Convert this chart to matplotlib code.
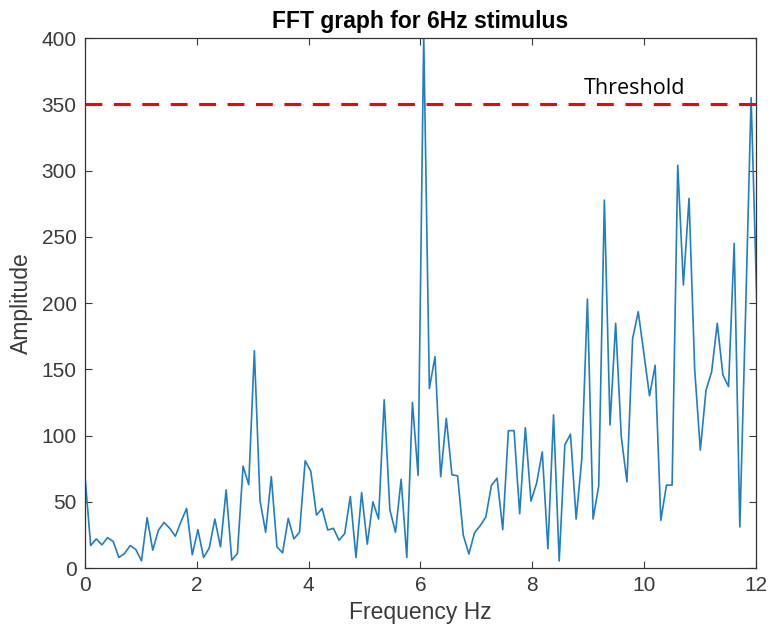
import numpy as np
import matplotlib
matplotlib.use("Agg")
import matplotlib.pyplot as plt

# FFT amplitude, one value per bin
amplitude = [
    69, 17, 22, 17.5, 23, 20, 8, 11, 17, 14,
    5.5, 38, 13.5, 28.5, 34.5, 30, 24, 35, 45, 10,
    29, 8, 15, 37, 16, 59, 6, 11, 77, 63,
    164, 51, 27, 69, 16, 11.5, 37.5, 22, 27, 81,
    73, 40, 45, 28.7, 30, 21, 26, 54, 8, 57,
    18, 50, 37, 127, 44, 27, 67, 8, 125, 70,
    402, 135.5, 159.5, 69, 113, 70.4, 69.6, 25, 10.6, 26.6,
    32, 38.5, 62.5, 67.8, 29, 103.7, 103.7, 41, 106, 50.5,
    64, 87.7, 14.6, 115.6, 5.3, 93, 101, 37, 82, 203,
    37, 62, 277.7, 108, 184.7, 99, 65, 173, 193.5, 162,
    130, 153, 36, 62.6, 62.6, 304, 213.6, 279, 150, 89,
    134, 148, 184.7, 145.7, 137, 245, 31, 190, 355, 202,
]
df = 0.101  # frequency resolution, Hz
threshold = 350
xticks = [0, 2, 4, 6, 8, 10, 12]
yticks = [0, 50, 100, 150, 200, 250, 300, 350, 400]

freq = np.arange(len(amplitude)) * df

plt.rcParams['font.family'] = ['Liberation Sans', 'DejaVu Sans']
grey = '#3a3a3a'

fig = plt.figure(figsize=(7.68, 6.34), dpi=100)
ax = fig.add_axes([0.1107, 0.104, 0.8733, 0.836])

ax.plot(freq, amplitude, color='#1f7fc4', lw=1.2)
ax.axhline(threshold, color='#ff0000', lw=2.2, dashes=(5.5, 3.8))
ax.text(8.92, 358, 'Threshold', fontsize=15.5, family=['Open Sans', 'DejaVu Sans'],
        color='black', va='baseline', ha='left')

ax.set_xlim(0, 12)
ax.set_ylim(0, 400)
ax.set_xticks(xticks)
ax.set_yticks(yticks)
ax.tick_params(direction='in', length=5, width=0.8, top=True, right=True,
               labelsize=15, colors=grey, pad=6)
for s in ax.spines.values():
    s.set_color('#333333')
    s.set_linewidth(0.9)

ax.set_xlabel('Frequency Hz', fontsize=16.5, color=grey, labelpad=4)
ax.set_ylabel('Amplitude', fontsize=16.5, color=grey, labelpad=6)
ax.set_title('FFT graph for 6Hz stimulus', fontsize=16.5, fontweight='bold',
             color='black', pad=7)

fig.savefig('out.png', dpi=100)
